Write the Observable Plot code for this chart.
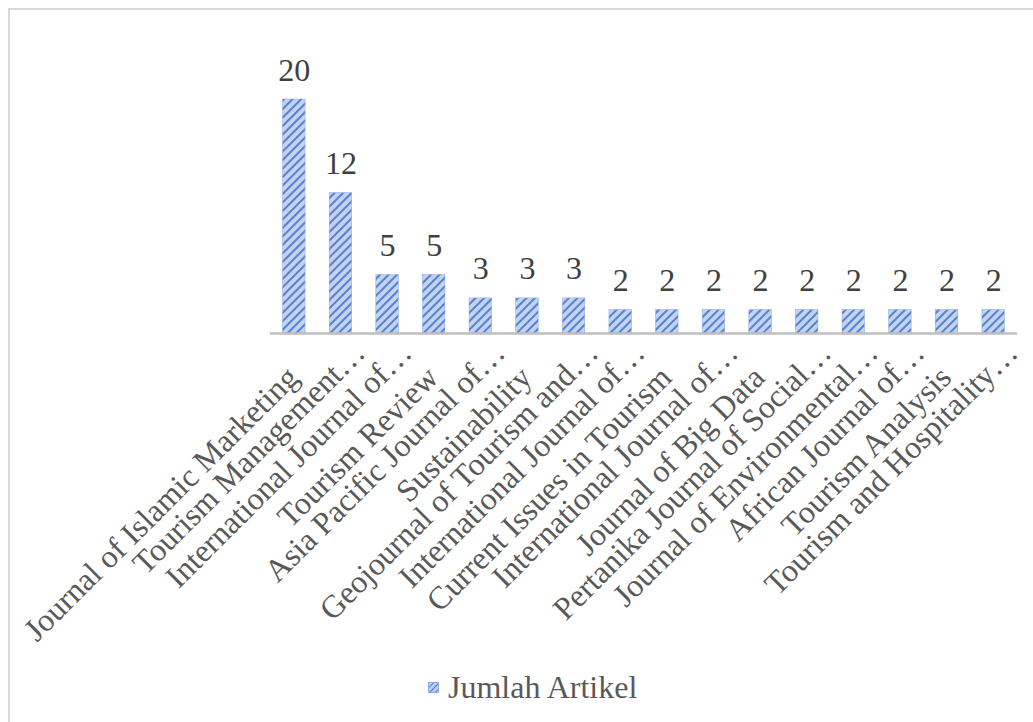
<!DOCTYPE html>
<html>
<head>
<meta charset="utf-8">
<script src="https://cdn.jsdelivr.net/npm/d3@7"></script>
<script src="https://cdn.jsdelivr.net/npm/@observablehq/plot@0.6"></script>
<style>
  html, body { margin: 0; padding: 0; background: #ffffff; }
  body { width: 1033px; height: 722px; position: relative; overflow: hidden; font-family: "Liberation Serif", "Times New Roman", serif; }
  #frame { position: absolute; left: 8px; top: 8px; width: 1040px; height: 730px; border-top: 2px solid #d9d9d9; border-left: 2px solid #d9d9d9; box-sizing: border-box; }
  #chart { position: absolute; left: 0; top: 0; }
  #legend { position: absolute; left: 428px; top: 669px; display: flex; align-items: center; gap: 9px; font-size: 32px; color: #595959; white-space: nowrap; }
  #legend svg { display: block; }
</style>
</head>
<body>
<div id="frame"></div>
<div id="chart"></div>
<div id="legend">
  <svg width="11" height="11"><defs>
    <pattern id="hatchL" patternUnits="userSpaceOnUse" width="4" height="4" patternTransform="rotate(45)">
      <rect width="4" height="4" fill="#bdcff1"></rect>
      <line x1="0" y1="0" x2="0" y2="4" stroke="#4472c4" stroke-width="1.8"></line>
    </pattern></defs>
    <rect x="0.5" y="0.5" width="10" height="10" fill="url(#hatchL)" stroke="#7f9edb" stroke-width="0.8"></rect>
  </svg>
  <span>Jumlah Artikel</span>
</div>
<script>
const journals = [
  "Journal of Islamic Marketing",
  "Tourism Management\u2026",
  "International Journal of\u2026",
  "Tourism Review",
  "Asia Pacific Journal of\u2026",
  "Sustainability",
  "Geojournal of Tourism and\u2026",
  "International Journal of\u2026",
  "Current Issues in Tourism",
  "International Journal of\u2026",
  "Journal of Big Data",
  "Pertanika Journal of Social\u2026",
  "Journal of Environmental\u2026",
  "African Journal of\u2026",
  "Tourism Analysis",
  "Tourism and Hospitality\u2026"
];
const articleCounts = [20, 12, 5, 5, 3, 3, 3, 2, 2, 2, 2, 2, 2, 2, 2, 2];
const seriesName = "Jumlah Artikel";

const rows = journals.map((name, i) => ({i, name, value: articleCounts[i]}));
const idx = d3.range(journals.length);
const truncated = idx.filter(i => journals[i].endsWith("\u2026"));
const full = idx.filter(i => !journals[i].endsWith("\u2026"));

const axisCommon = {
  tickSize: 0, tickPadding: 0, tickRotate: -45,
  tickFormat: i => journals[i],
  textAnchor: "end", lineAnchor: "bottom",
  fontSize: 32, fill: "#595959", label: null
};

const chart = Plot.plot({
  width: 1033,
  height: 660,
  marginLeft: 270,
  marginRight: 16,
  marginTop: 99,
  marginBottom: 327,
  style: {fontFamily: '"Liberation Serif", "Times New Roman", serif', background: "transparent", overflow: "visible"},
  x: {type: "band", domain: idx, paddingInner: 0.517, paddingOuter: 0.27, round: false, axis: null},
  y: {domain: [0, 20], axis: null},
  marks: [
    Plot.barY(rows, {x: "i", y: "value", fill: "url(#hatch)", stroke: "#8aa7de", strokeWidth: 0.5}),
    Plot.ruleY([0], {stroke: "#bfbfbf", strokeWidth: 2.5}),
    Plot.text(rows, {x: "i", y: "value", text: d => String(d.value), dy: -19, lineAnchor: "bottom", fontSize: 32, fill: "#404040"}),
    Plot.axisX({...axisCommon, ticks: truncated, dx: 26, dy: 21}),
    Plot.axisX({...axisCommon, ticks: full, dx: 6, dy: 46})
  ]
});

// hatch pattern (wide upward diagonal)
const ns = "http://www.w3.org/2000/svg";
const defs = document.createElementNS(ns, "defs");
defs.innerHTML = `<pattern id="hatch" patternUnits="userSpaceOnUse" width="6" height="6" patternTransform="rotate(45)">
  <rect width="6" height="6" fill="#c2d3f2"></rect>
  <line x1="1" y1="0" x2="1" y2="6" stroke="#4a78cc" stroke-width="1.8"></line>
</pattern>`;
chart.insertBefore(defs, chart.firstChild);
document.getElementById("chart").appendChild(chart);
</script>
</body>
</html>
